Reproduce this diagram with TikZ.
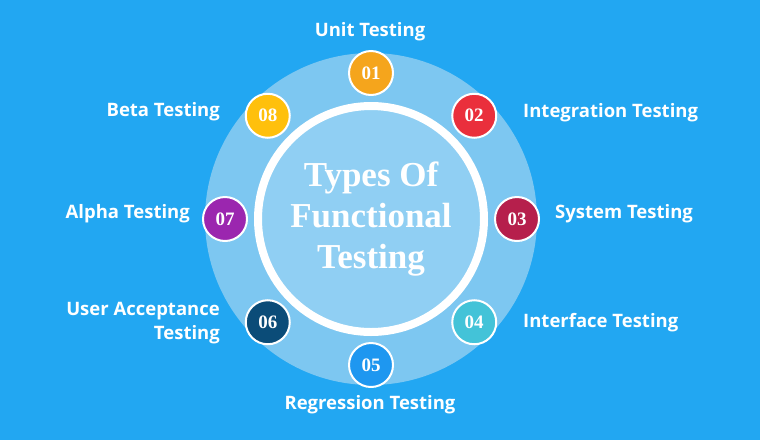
\documentclass[tikz,border=0pt]{standalone}
\usepackage{fontspec}
\setmainfont{Liberation Serif}
\setsansfont{Open Sans}
\usetikzlibrary{positioning,calc}
\definecolor{bgblue}{HTML}{22A7F2}
\definecolor{discblue}{HTML}{7DC7F1}
\definecolor{c1}{HTML}{F5A51C}
\definecolor{c2}{HTML}{EA2F3C}
\definecolor{c3}{HTML}{B61F4C}
\definecolor{c4}{HTML}{43C3D8}
\definecolor{c5}{HTML}{1E97F0}
\definecolor{c6}{HTML}{0B4C78}
\definecolor{c7}{HTML}{9B26AF}
\definecolor{c8}{HTML}{FFC00C}
\tikzset{
  numdot/.style={circle,draw=white,line width=2pt,minimum size=44pt,inner sep=0pt,
    text=white,font=\bfseries\fontsize{19}{19}\selectfont},
  caption/.style={text=white,font=\sffamily\bfseries\fontsize{18.5}{24}\selectfont,inner sep=0pt},
}
\begin{document}
\begin{tikzpicture}[x=1pt,y=1pt]
  \useasboundingbox[fill=bgblue] (0,0) rectangle (760,-440);
  \coordinate (mid) at (371,-219);
  \fill[discblue] (mid) circle (166);
  \draw[white,line width=8pt,fill=discblue!85!white] (mid) circle (113);
  \node[white,align=center,font=\bfseries\fontsize{35}{41}\selectfont] (title) at (mid) {Types Of\\Functional\\Testing};
  % numbered dots around the ring
  \foreach \n/\ang/\col in {1/90/c1,2/45/c2,3/0/c3,4/-45/c4,5/-90/c5,6/-135/c6,7/180/c7,8/135/c8}
    \node[numdot,fill=\col] (d\n) at ($(mid)+(\ang:146)$) {0\n};
  \node[caption] (l1) at (370,-32) {Unit Testing};
  \node[caption,anchor=west] (l2) at (523,-113) {Integration Testing};
  \node[caption,anchor=west] (l3) at (555,-214) {System Testing};
  \node[caption,anchor=west] (l4) at (523,-323) {Interface Testing};
  \node[caption] (l5) at (370,-405) {Regression Testing};
  \node[caption,anchor=east,align=right] (l6) at (220,-323) {User Acceptance\\Testing};
  \node[caption,anchor=east] (l7) at (190,-214) {Alpha Testing};
  \node[caption,anchor=east] (l8) at (220,-112) {Beta Testing};
\end{tikzpicture}
\end{document}
